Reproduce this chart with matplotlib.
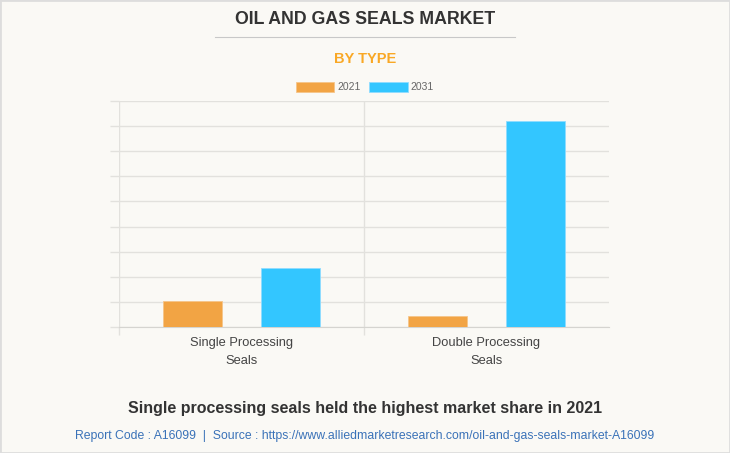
import matplotlib.pyplot as plt
import numpy as np
from matplotlib.patches import Rectangle
from matplotlib.lines import Line2D

categories = ['Single Processing\nSeals', 'Double Processing\nSeals']
years = ['2021', '2031']
values_2021 = [1.04, 0.44]
values_2031 = [2.35, 8.2]

bg = '#faf9f5'
orange = '#f2a444'
blue = '#33c6ff'
grid_c = '#e2e1dd'

plt.rcParams['font.family'] = ['Liberation Sans', 'DejaVu Sans']

fig = plt.figure(figsize=(7.30, 4.53), dpi=100, facecolor=bg)
ax = fig.add_axes([119 / 730, 1 - 327 / 453, 490 / 730, 226 / 453])
ax.set_facecolor(bg)

x = np.arange(len(categories))
off = 0.2
w = 0.238
ax.bar(x - off, values_2021, width=w, color=orange, edgecolor='#f6c58a',
       linewidth=0.6, zorder=3, label=years[0])
ax.bar(x + off, values_2031, width=w, color=blue, edgecolor='#8fdcff',
       linewidth=0.6, zorder=3, label=years[1])

ax.set_xlim(-0.5, 1.5)
ax.set_ylim(0, 9)
ax.set_yticks(np.arange(0, 10, 1))
ax.set_yticklabels([])
ax.tick_params(axis='y', length=6.5, color=grid_c, width=1)
ax.yaxis.grid(True, color=grid_c, linewidth=1, zorder=0)

ax.set_xticks([-0.5, 0.5])
ax.set_xticklabels([])
ax.tick_params(axis='x', which='major', length=6, color=grid_c, width=1)
ax.xaxis.grid(True, which='major', color=grid_c, linewidth=1, zorder=0)
ax.set_xticks(x, minor=True)
ax.set_xticklabels(categories, minor=True, fontsize=9.3, color='#444444',
                   linespacing=1.75)
ax.tick_params(axis='x', which='minor', length=0, pad=7)

for s in ['top', 'right', 'left']:
    ax.spines[s].set_visible(False)
ax.spines['bottom'].set_color('#d5d4d0')

# titles
fig.text(0.5, 1 - 20 / 453, 'OIL AND GAS SEALS MARKET', ha='center', va='center',
         fontsize=12.8, fontweight='bold', color='#333333')
fig.add_artist(Line2D([215 / 730, 515 / 730], [1 - 37 / 453, 1 - 37 / 453],
                      color='#c8c8c8', linewidth=0.8))
fig.text(0.5, 1 - 59 / 453, 'BY TYPE', ha='center', va='center',
         fontsize=10.5, fontweight='bold', color='#f9a825')

leg = fig.legend(loc='center', bbox_to_anchor=(0.5, 1 - 87 / 453), ncol=2,
                 frameon=False, fontsize=7.5, handlelength=3.7, handleheight=1.1,
                 handletextpad=0.3, columnspacing=0.8, labelcolor='#666666')

fig.text(0.5, 1 - 408 / 453, 'Single processing seals held the highest market share in 2021',
         ha='center', va='center', fontsize=11.5, fontweight='bold', color='#333333')
fig.text(0.5, 1 - 436 / 453,
         'Report Code : A16099  |  Source : https://www.alliedmarketresearch.com/oil-and-gas-seals-market-A16099',
         ha='center', va='center', fontsize=8.8, color='#3a72b8')

fig.add_artist(Rectangle((0, 0), 1, 1, transform=fig.transFigure, fill=False,
                         edgecolor='#dddddd', linewidth=2))

fig.savefig('out.png', dpi=100, facecolor=bg)
